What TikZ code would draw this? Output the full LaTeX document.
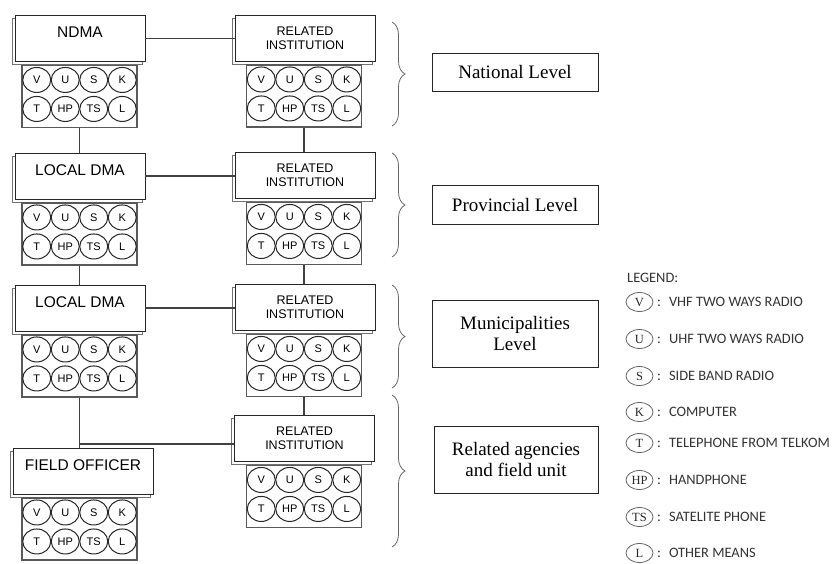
\documentclass[tikz,border=0pt]{standalone}
\usepackage{fontspec}
\setmainfont{Liberation Serif}
\newfontfamily\arialfont{Liberation Sans}
\newfontfamily\calibrifont{Carlito}
\usetikzlibrary{shapes.geometric,shadows,decorations.pathreplacing}

\tikzset{
  unit/.style={rectangle, draw=black!85, line width=0.9pt, fill=white, inner sep=0pt,
    minimum width=130pt, minimum height=46pt,
    copy shadow={shadow xshift=-3pt, shadow yshift=-3pt, draw=black!55, line width=0.7pt},
    font=\arialfont\fontsize{15.5}{15.5}\selectfont},
  single/.style={text height=22pt, text depth=24pt},
  inst/.style={unit, minimum width=140pt, align=center, font=\arialfont\fontsize{12.5}{14}\selectfont},
  devs/.style={rectangle, draw=black!65, line width=1.2pt, fill=white, inner sep=0pt,
    minimum width=115pt, minimum height=62pt, anchor=north},
  dev/.style={ellipse, draw=black!85, line width=1pt, inner sep=0pt,
    minimum width=28pt, minimum height=25pt, font=\arialfont\fontsize{11}{11}\selectfont},
  level/.style={rectangle, draw=black!85, line width=0.8pt, minimum width=166pt,
    align=center, font=\fontsize{19}{21}\selectfont},
  curly/.style={draw=black!60, line width=0.8pt, decorate, decoration={brace, amplitude=13pt}},
  key/.style={ellipse, draw=black!60, line width=0.8pt, inner sep=0pt, minimum width=27pt,
    minimum height=19pt, text=black!85, font=\fontsize{12.5}{12.5}\selectfont},
  keytext/.style={anchor=west, inner sep=0pt, text=black!80, font=\calibrifont\fontsize{14.4}{14.4}\selectfont},
  link/.style={draw=black!75, line width=1.1pt},
}

\begin{document}
\begin{tikzpicture}[x=1pt, y=-1pt]
  \useasboundingbox (0,0) rectangle (833,563);

  % left column
  \node[unit, single] (ndma) at (80,38.5) {NDMA};
  \node[unit, single] (ldma1) at (80,176) {LOCAL DMA};
  \node[unit, single] (ldma2) at (80,308) {LOCAL DMA};
  \node[unit, single, minimum width=140pt] (fo) at (83,471) {FIELD OFFICER};

  % right column
  \node[inst] (ri1) at (305,38) {RELATED\\INSTITUTION};
  \node[inst] (ri2) at (305,175.5) {RELATED\\INSTITUTION};
  \node[inst] (ri3) at (305,307.5) {RELATED\\INSTITUTION};
  \node[inst] (ri4) at (304.5,438.5) {RELATED\\INSTITUTION};

  % device panels under each box
  \node[devs] (ndma-d) at ([xshift=-0.5pt, yshift=-3pt]ndma.south) {};
  \node[devs] (ldma1-d) at ([xshift=-0.5pt, yshift=-3pt]ldma1.south) {};
  \node[devs] (ldma2-d) at ([xshift=-0.5pt, yshift=-3pt]ldma2.south) {};
  \node[devs] (fo-d) at ([xshift=-3.5pt, yshift=-3pt]fo.south) {};
  \node[devs] (ri1-d) at ([xshift=-1pt, yshift=-3pt]ri1.south) {};
  \node[devs] (ri2-d) at ([xshift=-1pt, yshift=-3pt]ri2.south) {};
  \node[devs] (ri3-d) at ([xshift=-1pt, yshift=-3pt]ri3.south) {};
  \node[devs] (ri4-d) at ([xshift=-0.5pt, yshift=-3pt]ri4.south) {};

  \foreach \g in {ndma-d, ldma1-d, ldma2-d, fo-d, ri1-d, ri2-d, ri3-d, ri4-d} {
    \foreach \t [count=\i from 0] in {V,U,S,K,T,HP,TS,L} {
      \pgfmathsetmacro\cx{mod(\i,4)*28.5-42.75}
      \pgfmathsetmacro\cy{int(\i/4)*29+15}
      \node[dev] (\g-\i) at ([xshift=\cx pt, yshift=-\cy pt]\g.north) {\t};
    }
  }

  % links
  \draw[link] (ndma.east) -- (ndma.east -| ri1.west);
  \draw[link] (ldma1.east) -- (ldma1.east -| ri2.west);
  \draw[link] (ldma2.east) -- (ldma2.east -| ri3.west);
  \draw[link] (ndma-d.south) -- (ndma-d.south |- ldma1.north);
  \draw[link] (ldma1-d.south) -- (ldma1-d.south |- ldma2.north);
  \draw[link] (ldma2-d.south) -- (ldma2-d.south |- fo.north);
  \draw[link] (ri1-d.south) -- (ri1-d.south |- ri2.north);
  \draw[link] (ri2-d.south) -- (ri2-d.south |- ri3.north);
  \draw[link] (ri3-d.south) -- (ri3-d.south |- ri4.north);
  \coordinate (fork) at (79.5,444);
  \draw[link] (fork) -- (fork -| ri4.west);

  % levels
  \foreach \top/\bot in {22/126, 153/257, 285/388, 395/547}
    \draw[curly] (392,\top) -- (392,\bot);
  \node[level, minimum height=38pt] (national) at (515,72) {National Level};
  \node[level, minimum height=39pt] (provincial) at (515,204.5) {Provincial Level};
  \node[level, minimum height=67pt] (municipal) at (515,333.5) {Municipalities\\Level};
  \node[level, minimum height=67pt, minimum width=164pt] (agencies) at (516,459.5) {Related agencies\\and field unit};

  % legend
  \node[keytext, anchor=base west] (legend) at (627,282) {LEGEND:};
  \foreach \t/\y/\txt [count=\i] in {V/302/VHF TWO WAYS RADIO, U/339/UHF TWO WAYS RADIO,
      S/376/SIDE BAND RADIO, K/412/COMPUTER, T/443/TELEPHONE FROM TELKOM,
      HP/480/HANDPHONE, TS/517/SATELITE PHONE, L/553/OTHER MEANS} {
    \node[key] (key\i) at (639.5,\y) {\t};
    \node[keytext] (keytxt\i) at (657,\y) {:\hspace{8pt}\txt};
  }
\end{tikzpicture}
\end{document}
